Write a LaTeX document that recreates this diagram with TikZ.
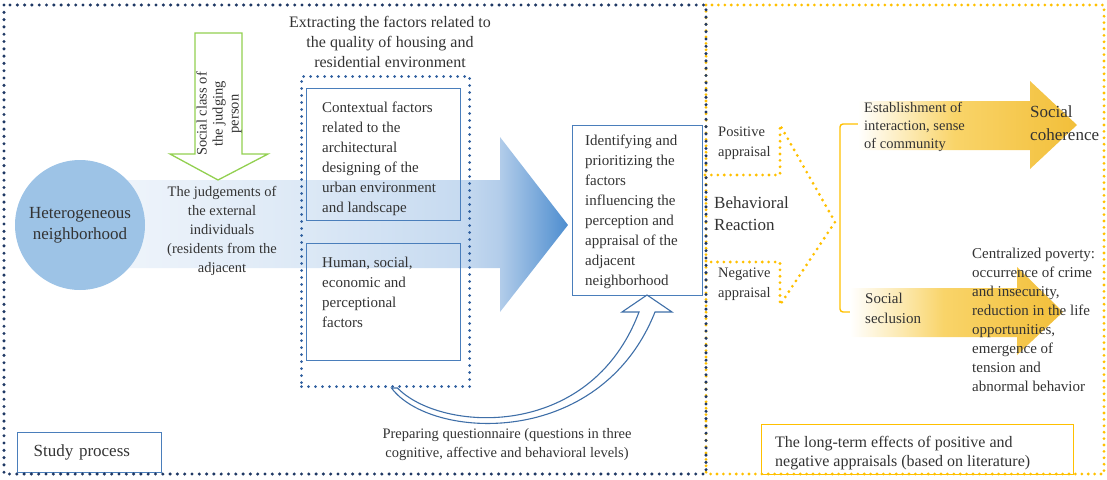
\documentclass[tikz,border=0pt]{standalone}
\usepackage{fontspec}
\setmainfont{Liberation Serif}
\usetikzlibrary{positioning}

\definecolor{navy}{HTML}{1F3864}
\definecolor{midblue}{HTML}{2F5F9F}
\definecolor{boxblue}{HTML}{4A7EBB}
\definecolor{circblue}{HTML}{9DC3E6}
\definecolor{curvblue}{HTML}{3F6FA8}
\definecolor{arrgreen}{HTML}{92D050}
\definecolor{gold}{HTML}{FFC000}
\definecolor{textgray}{HTML}{333333}
\definecolor{bandA}{HTML}{F6F9FD}
\definecolor{bandB}{HTML}{DDE9F6}
\definecolor{bandC}{HTML}{C6DAF0}
\definecolor{bandD}{HTML}{B3CDEA}
\definecolor{bandE}{HTML}{4D8DCF}
\definecolor{yelA}{HTML}{FFFFFF}
\definecolor{yelB}{HTML}{FCE9B0}
\definecolor{yelC}{HTML}{F9D469}
\definecolor{yelD}{HTML}{F2BF3A}

\pgfdeclarehorizontalshading{bandshade}{100bp}{color(0bp)=(bandA); color(25bp)=(bandA);
  color(49.5bp)=(bandB); color(65bp)=(bandC); color(68.5bp)=(bandD); color(75bp)=(bandE);
  color(100bp)=(bandE)}
\pgfdeclarehorizontalshading{yelshade}{100bp}{color(0bp)=(yelA); color(25bp)=(yelA);
  color(37bp)=(yelB); color(47bp)=(yelC); color(75bp)=(yelD); color(100bp)=(yelD)}

\begin{document}
\begin{tikzpicture}[x=1pt,y=-1pt]

\tikzset{
  txt/.style = { text=textgray, inner sep=0pt, font=\fontsize{15}{20}\selectfont },
  navydots/.style = { draw=navy, line width=3.4pt, dash pattern=on 0pt off 7.3pt,
                      line cap=round },
  innerdots/.style = { draw=midblue, line width=3pt, dash pattern=on 0pt off 7pt,
                       line cap=round },
  golddots/.style = { draw=gold, line width=3.1pt, dash pattern=on 0pt off 6.4pt,
                      line cap=round },
  bluebox/.style = { draw=boxblue, line width=1.4pt, rectangle, anchor=north west },
  goldbox/.style = { draw=gold, line width=1.4pt, rectangle, anchor=north west },
  yelarrow/.style = { shading=yelshade, draw=none } }

\useasboundingbox (0,0) rectangle (1107,479);

% big arrow behind everything
\shade[shading=bandshade] (40,180) -- (500,180) -- (500,137) -- (568,225)
  -- (500,312) -- (500,268) -- (40,268) -- cycle;

\node[circle, fill=circblue, minimum size=130, txt,
      font=\fontsize{17}{21}\selectfont, align=center] (hetero) at (80,225)
  {Heterogeneous\\neighborhood};

% social class arrow
\draw[arrgreen, line width=1.3pt, fill=white] (195,33) -- (242,33) -- (242,154)
  -- (268,154) -- (218,180) -- (170,154) -- (195,154) -- cycle;
\node[txt, rotate=90, align=center, font=\fontsize{14.5}{16}\selectfont] (social)
  at (219,114) {Social class of\\the judging\\person};

\node[txt, align=center, anchor=north, font=\fontsize{14.5}{19}\selectfont] (judge)
  at (222,186) {The judgements of\\the external\\individuals\\(residents from the\\adjacent};

\node[txt, align=center, anchor=north, font=\fontsize{16}{20}\selectfont] (extract)
  at (390,16) {Extracting the factors related to\\the quality of housing and\\residential environment};

\node[innerdots, rectangle, minimum width=168, minimum height=310, anchor=north west]
  (factors) at (300,75) {};
\node[bluebox, minimum width=154, minimum height=132] (context) at (306,88) {};
\node[txt, align=left, anchor=north west] (contexttxt) at (322,102)
  {Contextual factors\\related to the\\architectural\\designing of the\\urban environment\\and landscape};
\node[bluebox, minimum width=154, minimum height=117] (human) at (306,243) {};
\node[txt, align=left, anchor=north west] (humantxt) at (322,257)
  {Human, social,\\economic and\\perceptional\\factors};

\node[bluebox, minimum width=130, minimum height=170] (identify) at (572,125) {};
\node[txt, align=left, anchor=north west] (identifytxt) at (585,135)
  {Identifying and\\prioritizing the\\factors\\influencing the\\perception and\\appraisal of the\\adjacent\\neighborhood};

% questionnaire arrow
\coordinate (qa) at ([xshift=6pt]factors.south);
\coordinate (qb) at ([xshift=12pt]factors.south);
\draw[curvblue, line width=1.1pt, fill=white] (qa) .. controls (430,440) and (600,450) .. (655,312)
  -- (672,312) -- (647,295) -- (622,312) -- (639,312)
  .. controls (590,442) and (440,432) .. (qb) -- cycle;
\node[txt, align=center, anchor=north, font=\fontsize{14.5}{19}\selectfont] (prep)
  at (507,428) {Preparing questionnaire (questions in three\\cognitive, affective and behavioral levels)};

\node[bluebox, minimum width=144, minimum height=40, txt, text=textgray, inner xsep=16pt,
      text width=112pt, align=left, font=\fontsize{17}{20}\selectfont] (study) at (17,432)
  {Study process};

% right part
\draw[golddots] (705,175) -- (780,175) -- (780,125) -- (835,222) -- (780,305)
  -- (780,262) -- (705,262);
\node[txt, align=left, anchor=north west, font=\fontsize{14.5}{20}\selectfont] (pos)
  at (718,127) {Positive\\appraisal};
\node[txt, align=left, anchor=north west, font=\fontsize{17}{22}\selectfont] (react)
  at (714,197) {Behavioral\\Reaction};
\node[txt, align=left, anchor=north west, font=\fontsize{14.5}{20}\selectfont] (neg)
  at (718,268) {Negative\\appraisal};

\draw[gold, line width=1.4pt, rounded corners=3pt] (858,124) -- (840,124) -- (840,312)
  -- (858,312);

\shade[yelarrow] (858,101) -- (1030,101) -- (1030,81) -- (1077,125) -- (1030,169)
  -- (1030,150) -- (858,150) -- cycle;
\shade[yelarrow] (850,288) -- (1017,288) -- (1017,267) -- (1063,312) -- (1017,355)
  -- (1017,337) -- (850,337) -- cycle;

\node[txt, align=left, anchor=north west, font=\fontsize{14.5}{18}\selectfont] (establish)
  at (864,102) {Establishment of\\interaction, sense\\of community};
\node[txt, align=left, anchor=north west, font=\fontsize{17}{23}\selectfont] (coherence)
  at (1030,106) {Social\\coherence};
\node[txt, align=left, anchor=north west, font=\fontsize{15}{20}\selectfont] (seclusion)
  at (865,293) {Social\\seclusion};
\node[txt, align=left, anchor=north west, font=\fontsize{15}{19}\selectfont] (poverty)
  at (972,248) {Centralized poverty:\\occurrence of crime\\and insecurity,\\reduction in the life\\opportunities,\\emergence of\\tension and\\abnormal behavior};

\node[goldbox, minimum width=312, minimum height=50] (longterm) at (761,424) {};
\node[txt, align=left, anchor=north west, font=\fontsize{16}{19}\selectfont] (longtxt)
  at (775,436) {The long-term effects of positive and\\negative appraisals (based on literature)};

% frames
\draw[golddots] (706,5) rectangle (1104,474);
\draw[navydots] (4,5) rectangle (706,474);

\end{tikzpicture}
\end{document}
